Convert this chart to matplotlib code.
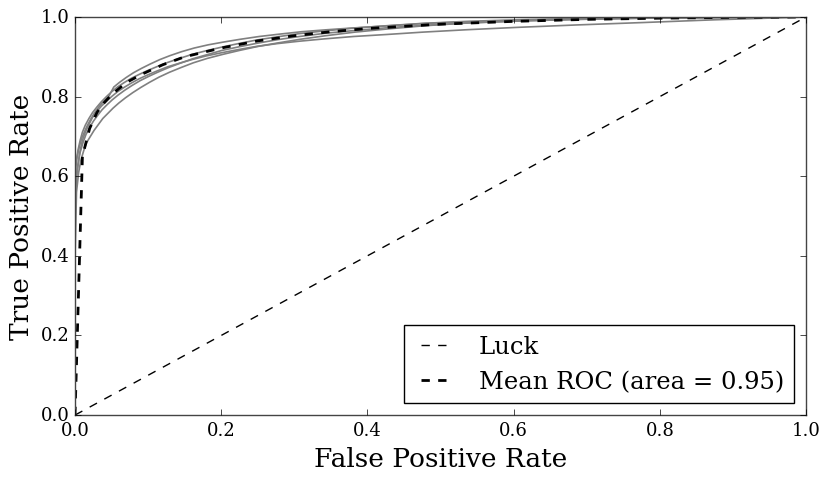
import matplotlib
matplotlib.use("Agg")
from matplotlib import pyplot as plt

plt.style.use("classic")
plt.rcParams["font.family"] = "serif"
plt.rcParams["font.serif"] = ["DejaVu Serif"]
plt.rcParams["figure.facecolor"] = "white"
plt.rcParams["savefig.facecolor"] = "white"

# per-fold ROC curves
fold_fpr = [
    [0, 0, 0.003, 0.006, 0.009, 0.013, 0.017, 0.022, 0.027, 0.033, 0.039, 0.046, 0.053, 0.061, 0.070,
     0.080, 0.091, 0.103, 0.116, 0.130, 0.146, 0.163, 0.182, 0.203, 0.226, 0.252, 0.28, 0.31, 0.345,
     0.385, 0.43, 0.48, 0.54, 0.61, 0.69, 0.78, 0.88, 1.0],
    [0, 0, 0.002, 0.005, 0.008, 0.012, 0.016, 0.021, 0.026, 0.032, 0.038, 0.045, 0.052, 0.060, 0.069,
     0.079, 0.090, 0.102, 0.115, 0.129, 0.145, 0.162, 0.181, 0.202, 0.225, 0.25, 0.278, 0.308, 0.343,
     0.383, 0.428, 0.478, 0.538, 0.608, 0.688, 0.778, 0.878, 1.0],
    [0, 0, 0.003, 0.007, 0.011, 0.015, 0.02, 0.025, 0.031, 0.037, 0.044, 0.051, 0.059, 0.068, 0.078,
     0.089, 0.101, 0.114, 0.128, 0.144, 0.161, 0.18, 0.201, 0.224, 0.249, 0.277, 0.307, 0.342, 0.382,
     0.427, 0.477, 0.537, 0.607, 0.687, 0.777, 0.877, 1.0],
    [0, 0, 0.002, 0.004, 0.007, 0.01, 0.014, 0.019, 0.024, 0.03, 0.036, 0.043, 0.05, 0.058, 0.067,
     0.077, 0.088, 0.1, 0.113, 0.127, 0.143, 0.16, 0.179, 0.2, 0.223, 0.248, 0.276, 0.306, 0.341,
     0.381, 0.426, 0.476, 0.536, 0.606, 0.686, 0.776, 0.876, 1.0],
    [0, 0, 0.003, 0.006, 0.01, 0.014, 0.019, 0.024, 0.03, 0.036, 0.043, 0.05, 0.058, 0.067, 0.077,
     0.088, 0.1, 0.113, 0.127, 0.143, 0.16, 0.179, 0.2, 0.223, 0.248, 0.276, 0.306, 0.341, 0.381,
     0.426, 0.476, 0.536, 0.606, 0.686, 0.776, 0.876, 1.0],
]
fold_tpr = [
    [0, 0.62, 0.65, 0.675, 0.695, 0.712, 0.728, 0.745, 0.76, 0.775, 0.788, 0.80, 0.824, 0.836, 0.848,
     0.86, 0.871, 0.882, 0.893, 0.903, 0.913, 0.922, 0.93, 0.937, 0.944, 0.951, 0.957, 0.963, 0.968,
     0.973, 0.978, 0.984, 0.988, 0.992, 0.995, 0.998, 0.999, 1.0],
    [0, 0.40, 0.56, 0.61, 0.64, 0.665, 0.685, 0.70, 0.715, 0.73, 0.745, 0.758, 0.771, 0.784, 0.797,
     0.81, 0.823, 0.836, 0.849, 0.861, 0.873, 0.885, 0.896, 0.906, 0.916, 0.926, 0.935, 0.944, 0.953,
     0.962, 0.97, 0.978, 0.985, 0.99, 0.994, 0.997, 0.999, 1.0],
    [0, 0.56, 0.62, 0.66, 0.685, 0.705, 0.722, 0.738, 0.753, 0.767, 0.78, 0.792, 0.804, 0.816, 0.828,
     0.84, 0.851, 0.862, 0.873, 0.884, 0.895, 0.905, 0.916, 0.925, 0.934, 0.943, 0.951, 0.959, 0.966,
     0.973, 0.979, 0.985, 0.99, 0.994, 0.997, 0.999, 1.0],
    [0, 0.60, 0.64, 0.665, 0.69, 0.71, 0.728, 0.745, 0.76, 0.774, 0.787, 0.80, 0.812, 0.824, 0.835,
     0.846, 0.856, 0.866, 0.876, 0.886, 0.896, 0.906, 0.915, 0.924, 0.933, 0.942, 0.95, 0.958, 0.965,
     0.972, 0.978, 0.984, 0.989, 0.993, 0.996, 0.998, 0.999, 1.0],
    [0, 0.55, 0.61, 0.655, 0.69, 0.71, 0.73, 0.748, 0.763, 0.776, 0.788, 0.80, 0.812, 0.823, 0.834,
     0.845, 0.855, 0.865, 0.875, 0.884, 0.893, 0.902, 0.91, 0.918, 0.926, 0.933, 0.939, 0.945, 0.951,
     0.956, 0.962, 0.968, 0.974, 0.98, 0.986, 0.993, 1.0],
]

mean_fpr = [0, 0.0101, 0.02, 0.03, 0.04, 0.05, 0.07, 0.09, 0.12, 0.15, 0.2, 0.25, 0.3, 0.35, 0.4,
            0.5, 0.6, 0.7, 0.8, 0.9, 1.0]
mean_tpr = [0, 0.65, 0.72, 0.76, 0.785, 0.805, 0.835, 0.855, 0.88, 0.90, 0.922, 0.94, 0.953, 0.963,
            0.971, 0.982, 0.989, 0.994, 0.997, 0.999, 1.0]
mean_auc = 0.95

fig = plt.figure(figsize=(8.3, 4.81), dpi=100)
ax = fig.add_axes([0.0904, 0.135, 0.8807, 0.8276])

for fpr, tpr in zip(fold_fpr, fold_tpr):
    ax.plot(fpr, tpr, color="grey", lw=1.2)

ax.plot([0, 1], [0, 1], "k--", lw=1, label="Luck")
ax.plot(mean_fpr, mean_tpr, "k--", lw=2, label="Mean ROC (area = %0.2f)" % mean_auc)

ax.set_xlim(0, 1)
ax.set_ylim(0, 1)
ax.set_xlabel("False Positive Rate", fontsize=19)
ax.set_ylabel("True Positive Rate", fontsize=19)
ax.tick_params(labelsize=13)
for s in ax.spines.values():
    s.set_color("#444444")
ax.legend(loc="lower right", fontsize=17.5, handlelength=1.8, handletextpad=0.9)

fig.savefig("out.png", dpi=100)
